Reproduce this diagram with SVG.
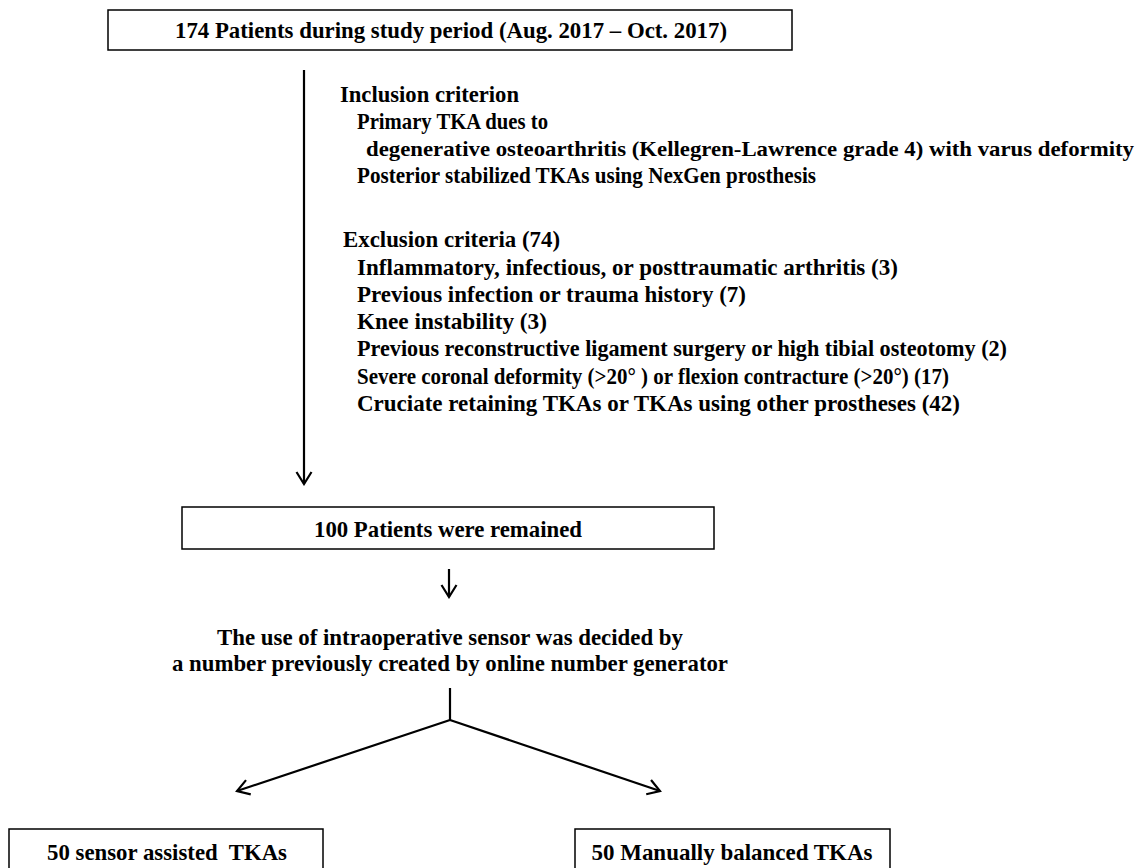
<svg xmlns="http://www.w3.org/2000/svg" width="1148" height="868" viewBox="0 0 1148 868">
<style>
.box{fill:#fff;stroke:#000;stroke-width:1.5}
.t{font-family:"Liberation Serif","Times New Roman",serif;font-weight:bold;font-size:24px;fill:#000}
.c{text-anchor:middle}
.ln{stroke:#000;stroke-width:2.2;fill:none}
</style>
<defs>
<marker id="ah" viewBox="-14 -9 16 18" markerWidth="16" markerHeight="18" markerUnits="userSpaceOnUse" orient="auto" refX="0" refY="0">
<path d="M-12,-7.5 L0,0 L-12,7.5" fill="none" stroke="#000" stroke-width="2.2"/>
</marker>
</defs>
<rect width="1148" height="868" fill="#fff"/>
<g id="connectors">
<line class="ln" x1="304" y1="70" x2="304" y2="484" marker-end="url(#ah)"/>
<line class="ln" x1="449" y1="569" x2="449" y2="597" marker-end="url(#ah)"/>
<polyline class="ln" points="450,688 450,720"/>
<line class="ln" x1="450" y1="720" x2="237" y2="791" marker-end="url(#ah)"/>
<line class="ln" x1="450" y1="720" x2="660" y2="791" marker-end="url(#ah)"/>
</g>
<g id="n_start">
<rect class="box" x="108" y="10" width="684" height="40"/>
<text class="t c" x="451" y="38" textLength="552" lengthAdjust="spacingAndGlyphs">174 Patients during study period (Aug. 2017 – Oct. 2017)</text>
</g>
<g id="n_inclusion">
<text class="t" x="340" y="102" textLength="179" lengthAdjust="spacingAndGlyphs">Inclusion criterion</text>
<text class="t" x="357" y="129" textLength="191" lengthAdjust="spacingAndGlyphs">Primary TKA dues to</text>
<text class="t" x="366" y="156" style="font-size:21.5px" textLength="768" lengthAdjust="spacingAndGlyphs">degenerative osteoarthritis (Kellegren-Lawrence grade 4) with varus deformity</text>
<text class="t" x="357" y="183" textLength="459" lengthAdjust="spacingAndGlyphs">Posterior stabilized TKAs using NexGen prosthesis</text>
</g>
<g id="n_exclusion">
<text class="t" x="343" y="247" textLength="217" lengthAdjust="spacingAndGlyphs">Exclusion criteria (74)</text>
<text class="t" x="357" y="275" textLength="541" lengthAdjust="spacingAndGlyphs">Inflammatory, infectious, or posttraumatic arthritis (3)</text>
<text class="t" x="357" y="302" textLength="389" lengthAdjust="spacingAndGlyphs">Previous infection or trauma history (7)</text>
<text class="t" x="357" y="329" textLength="190" lengthAdjust="spacingAndGlyphs">Knee instability (3)</text>
<text class="t" x="357" y="356" textLength="650" lengthAdjust="spacingAndGlyphs">Previous reconstructive ligament surgery or high tibial osteotomy (2)</text>
<text class="t" x="357" y="384" textLength="592" lengthAdjust="spacingAndGlyphs">Severe coronal deformity (&gt;20° ) or flexion contracture (&gt;20°) (17)</text>
<text class="t" x="357" y="411" textLength="603" lengthAdjust="spacingAndGlyphs">Cruciate retaining TKAs or TKAs using other prostheses (42)</text>
</g>
<g id="n_remained">
<rect class="box" x="182" y="507" width="532" height="42"/>
<text class="t c" x="448" y="537" textLength="268" lengthAdjust="spacingAndGlyphs">100 Patients were remained</text>
</g>
<g id="n_decision">
<text class="t c" x="450" y="645" textLength="466" lengthAdjust="spacingAndGlyphs">The use of intraoperative sensor was decided by</text>
<text class="t c" x="450" y="671" textLength="556" lengthAdjust="spacingAndGlyphs">a number previously created by online number generator</text>
</g>
<g id="n_sensor">
<rect class="box" x="9" y="829" width="314" height="50"/>
<text class="t c" x="167" y="860" textLength="240" lengthAdjust="spacingAndGlyphs" xml:space="preserve">50 sensor assisted  TKAs</text>
</g>
<g id="n_manual">
<rect class="box" x="575" y="829" width="315" height="50"/>
<text class="t c" x="732" y="860" textLength="281" lengthAdjust="spacingAndGlyphs">50 Manually balanced TKAs</text>
</g>
</svg>
